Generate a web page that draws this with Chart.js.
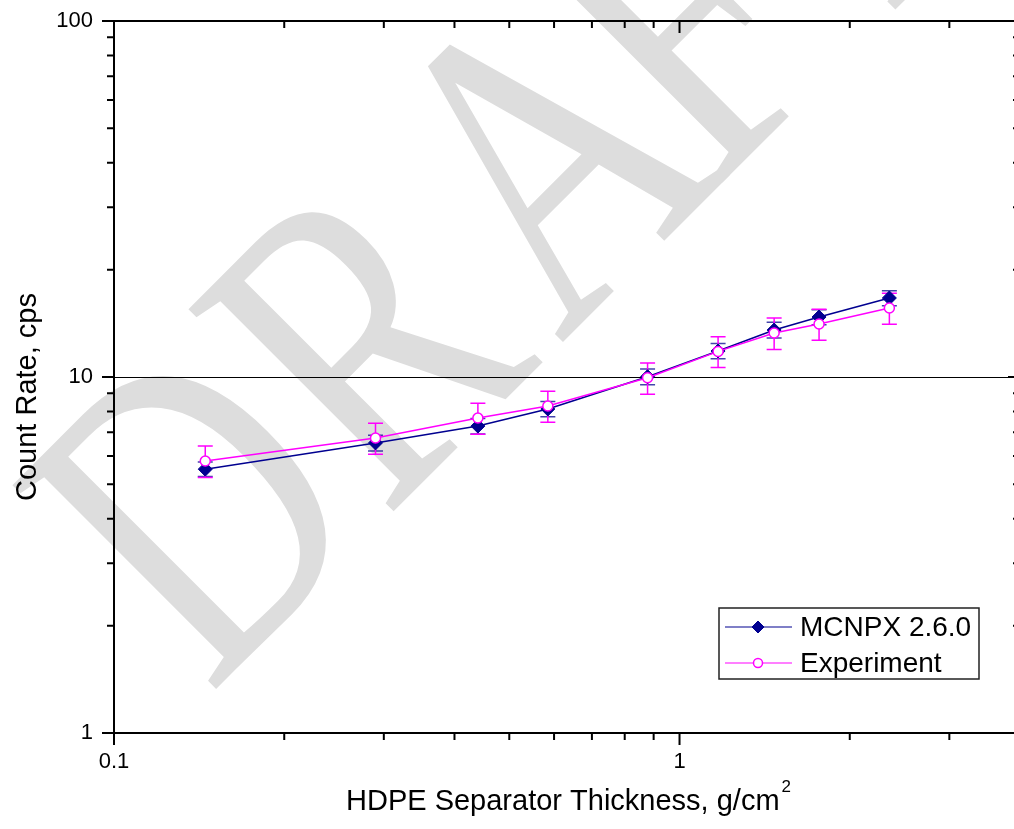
<!DOCTYPE html>
<html>
<head>
<meta charset="utf-8">
<script src="https://cdn.jsdelivr.net/npm/chart.js@4.4.1/dist/chart.umd.min.js"></script>
<style>
  html, body { margin: 0; padding: 0; background: #fff; overflow: hidden; }
  canvas { display: block; }
</style>
</head>
<body>
<canvas id="chart" width="1021" height="829"></canvas>
<script>
// data
const thickness = [0.145, 0.29, 0.44, 0.585, 0.878, 1.17, 1.47, 1.765, 2.35];
const mcnpxRate = [5.51, 6.53, 7.28, 8.13, 10.02, 11.83, 13.55, 14.74, 16.67];
const mcnpxErr  = [0.26, 0.33, 0.36, 0.40, 0.51, 0.58, 0.69, 0.72, 0.81];
const expRate   = [5.81, 6.74, 7.67, 8.29, 9.95, 11.80, 13.29, 14.09, 15.62];
const expErr    = [0.59, 0.67, 0.77, 0.83, 1.00, 1.17, 1.35, 1.40, 1.56];

const xTicks = [0.1, 1];
const yTicks = [1, 10, 100];
const seriesNames = ['MCNPX 2.6.0', 'Experiment'];

const FONT = "'Liberation Sans', Arial, sans-serif";

// gray DRAFT watermark behind everything
const watermark = {
  id: 'watermark',
  beforeDraw(chart) {
    const ctx = chart.ctx;
    const letters = [['D', -344], ['R', -95], ['A', 153], ['F', 370], ['T', 575]];
    ctx.save();
    ctx.fillStyle = '#dddddd';
    ctx.font = "440px 'Liberation Serif', 'Times New Roman', serif";
    ctx.textBaseline = 'alphabetic';
    ctx.textAlign = 'left';
    letters.forEach(([ch, p]) => {
      const x = (905 + 1.414 * p) / 2;
      const y = (905 - 1.414 * p) / 2;
      ctx.save();
      ctx.translate(x, y);
      ctx.rotate(-Math.PI / 4);
      ctx.scale(0.76, 1);
      ctx.fillText(ch, 0, 0);
      ctx.restore();
    });
    ctx.restore();
  }
};

// grid line at 10 and error bars under the markers
const errorBars = {
  id: 'errorBars',
  beforeDatasetsDraw(chart) {
    const { ctx, chartArea: a, scales: { x, y } } = chart;
    ctx.save();
    ctx.strokeStyle = '#000';
    ctx.lineWidth = 1;
    const gy = Math.round(y.getPixelForValue(10)) + 0.5;
    ctx.beginPath();
    ctx.moveTo(a.left, gy);
    ctx.lineTo(a.right, gy);
    ctx.stroke();

    chart.data.datasets.forEach(ds => {
      ctx.strokeStyle = ds.errColor;
      ctx.lineWidth = 1.5;
      ds.data.forEach((pt, i) => {
        const px = x.getPixelForValue(pt.x);
        const top = y.getPixelForValue(pt.y + ds.errors[i]);
        const bot = y.getPixelForValue(pt.y - ds.errors[i]);
        ctx.beginPath();
        ctx.moveTo(px, top); ctx.lineTo(px, bot);
        ctx.moveTo(px - 7.5, top); ctx.lineTo(px + 7.5, top);
        ctx.moveTo(px - 7.5, bot); ctx.lineTo(px + 7.5, bot);
        ctx.stroke();
      });
    });
    ctx.restore();
  }
};

// axis frame, ticks, titles and legend box
const frame = {
  id: 'frame',
  afterDraw(chart) {
    const { ctx, chartArea: a, scales: { x, y } } = chart;
    ctx.save();
    ctx.strokeStyle = '#000';
    ctx.lineWidth = 2;
    ctx.beginPath();
    ctx.rect(a.left, a.top, a.right - a.left, a.bottom - a.top);
    ctx.stroke();

    ctx.beginPath();
    for (let d = -1; d <= 0; d++) {
      for (let m = 1; m <= 9; m++) {
        const v = m * Math.pow(10, d);
        if (v > x.max) continue;
        const px = x.getPixelForValue(v);
        const len = m === 1 ? 12 : 7;
        ctx.moveTo(px, a.bottom); ctx.lineTo(px, a.bottom + len);
        ctx.moveTo(px, a.top); ctx.lineTo(px, a.top + len);
      }
    }
    for (let d = 0; d <= 2; d++) {
      for (let m = 1; m <= 9; m++) {
        const v = m * Math.pow(10, d);
        if (v > y.max) continue;
        const py = y.getPixelForValue(v);
        const len = m === 1 ? 12 : 7;
        ctx.moveTo(a.left, py); ctx.lineTo(a.left - len, py);
        ctx.moveTo(a.right, py); ctx.lineTo(a.right - len, py);
      }
    }
    ctx.stroke();

    // axis titles
    ctx.fillStyle = '#000';
    ctx.font = '29px ' + FONT;
    ctx.textBaseline = 'alphabetic';
    ctx.save();
    ctx.translate(36, 397);
    ctx.rotate(-Math.PI / 2);
    ctx.textAlign = 'center';
    ctx.fillText('Count Rate, cps', 0, 0);
    ctx.restore();

    const main = 'HDPE Separator Thickness, g/cm';
    const w = ctx.measureText(main).width;
    ctx.textAlign = 'left';
    const x0 = 346;
    ctx.fillText(main, x0, 810);
    ctx.font = '17px ' + FONT;
    ctx.fillText('2', x0 + w + 2, 792);

    // legend
    const bx = 719, by = 608, bw = 260, bh = 71;
    ctx.fillStyle = '#fff';
    ctx.fillRect(bx, by, bw, bh);
    ctx.strokeStyle = '#222';
    ctx.lineWidth = 1.5;
    ctx.strokeRect(bx, by, bw, bh);
    const rows = [627, 663];
    chart.data.datasets.forEach((ds, i) => {
      const ry = rows[i];
      ctx.strokeStyle = ds.borderColor;
      ctx.lineWidth = 1.2;
      ctx.beginPath();
      ctx.moveTo(725, ry); ctx.lineTo(792, ry);
      ctx.stroke();
      ctx.fillStyle = ds.backgroundColor;
      ctx.strokeStyle = ds.borderColor;
      ctx.lineWidth = ds.pointBorderWidth;
      ctx.beginPath();
      if (ds.pointStyle === 'rectRot') {
        ctx.moveTo(758, ry - 6); ctx.lineTo(764, ry); ctx.lineTo(758, ry + 6); ctx.lineTo(752, ry);
        ctx.closePath();
      } else {
        ctx.arc(758, ry, 4.5, 0, Math.PI * 2);
      }
      ctx.fill();
      ctx.stroke();
      ctx.fillStyle = '#000';
      ctx.font = '28px ' + FONT;
      ctx.textBaseline = 'middle';
      ctx.fillText(ds.label, 800, ry + 1);
    });
    ctx.restore();
  }
};

const toPoints = (xs, ys) => xs.map((v, i) => ({ x: v, y: ys[i] }));

new Chart(document.getElementById('chart').getContext('2d'), {
  type: 'line',
  data: {
    datasets: [
      {
        label: seriesNames[0],
        data: toPoints(thickness, mcnpxRate),
        errors: mcnpxErr,
        errColor: 'rgba(20, 20, 150, 0.8)',
        borderColor: '#000090',
        backgroundColor: '#000090',
        borderWidth: 1.5,
        pointStyle: 'rectRot',
        pointRadius: 7,
        pointBorderWidth: 1,
        order: 1
      },
      {
        label: seriesNames[1],
        data: toPoints(thickness, expRate),
        errors: expErr,
        errColor: '#ff00ff',
        borderColor: '#ff00ff',
        backgroundColor: '#ffffff',
        borderWidth: 1.5,
        pointStyle: 'circle',
        pointRadius: 5,
        pointBorderWidth: 1.5,
        order: 0
      }
    ]
  },
  options: {
    responsive: false,
    animation: false,
    devicePixelRatio: 1,
    // the right axis sits just past the picture edge, as in the original
    layout: { autoPadding: false, padding: { top: 21, right: 1, left: 0, bottom: 0 } },
    plugins: { legend: { display: false }, tooltip: { enabled: false } },
    scales: {
      x: {
        type: 'logarithmic',
        min: 0.1,
        max: 4,
        afterBuildTicks: s => { s.ticks = xTicks.map(v => ({ value: v })); },
        afterFit: s => { s.height = 96; s.paddingLeft = 0; s.paddingRight = 0; },
        grid: { display: false, drawTicks: false },
        border: { display: false },
        ticks: {
          padding: 16,
          color: '#000',
          maxRotation: 0,
          autoSkip: false,
          font: { family: FONT, size: 22 },
          callback: v => String(v)
        }
      },
      y: {
        type: 'logarithmic',
        min: 1,
        max: 100,
        afterBuildTicks: s => { s.ticks = yTicks.map(v => ({ value: v })); },
        afterFit: s => { s.width = 114; s.paddingTop = 0; s.paddingBottom = 0; },
        grid: { display: false, drawTicks: false },
        border: { display: false },
        ticks: {
          padding: 21,
          color: '#000',
          autoSkip: false,
          font: { family: FONT, size: 22 },
          callback: v => String(v)
        }
      }
    }
  },
  plugins: [watermark, errorBars, frame]
});
</script>
</body>
</html>
